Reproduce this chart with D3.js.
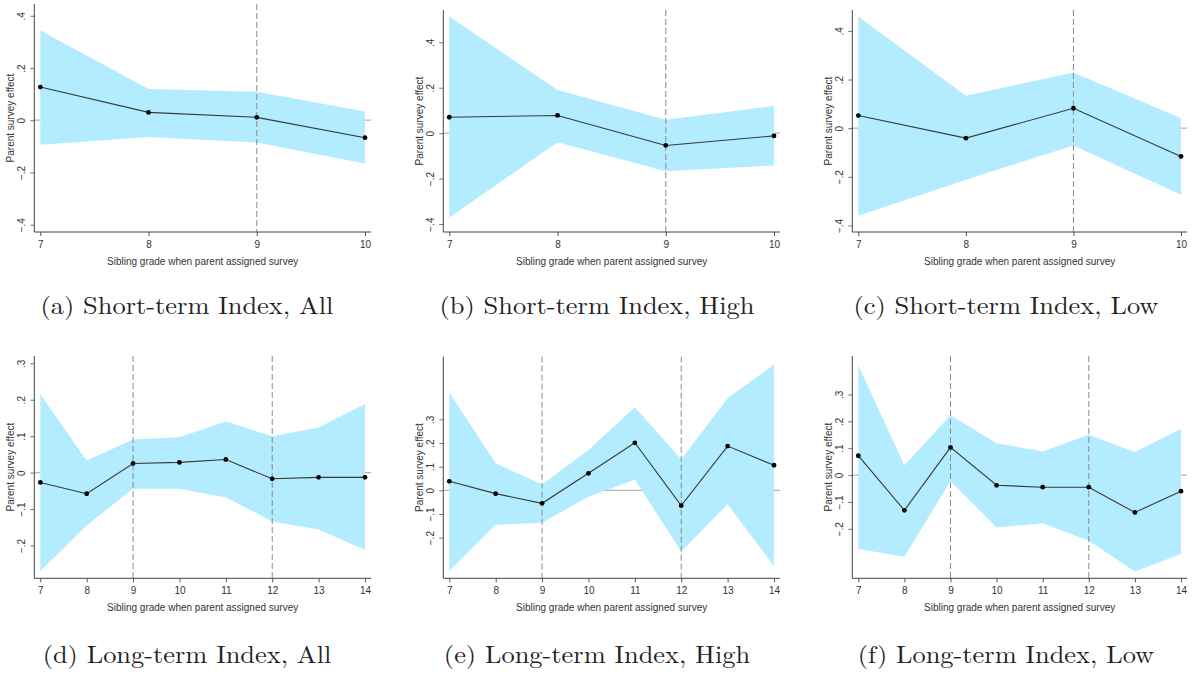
<!DOCTYPE html>
<html>
<head>
<meta charset="utf-8">
<script src="https://cdn.jsdelivr.net/npm/d3@7"></script>
<style>
  body { margin: 0; background: #fff; }
  .tick text { font-family: "Liberation Sans", Arial, sans-serif; font-size: 10px; fill: #333; }
  .axisTitle { font-family: "Liberation Sans", Arial, sans-serif; font-size: 10px; fill: #333; }
  .caption { font-family: "Latin Modern Roman", "Liberation Serif", serif; font-size: 24px; fill: #222; }
</style>
</head>
<body>
<div class="chart"></div>
<script>
// Grades on the x axis
var shortGrades = [7, 8, 9, 10];
var longGrades = [7, 8, 9, 10, 11, 12, 13, 14];

// Y tick values
var shortTicks = [-0.4, -0.2, 0, 0.2, 0.4];
var longTicks = [-0.2, -0.1, 0, 0.1, 0.2, 0.3];

// Dashed cutoff grades
var shortCutoffs = [9];
var longCutoffs = [9, 12];

// (a) Short-term Index, All
var estA = [0.127, 0.030, 0.011, -0.067];
var hiA = [0.344, 0.120, 0.109, 0.033];
var loA = [-0.094, -0.064, -0.085, -0.166];
// (b) Short-term Index, High
var estB = [0.070, 0.078, -0.054, -0.012];
var hiB = [0.513, 0.190, 0.059, 0.120];
var loB = [-0.371, -0.040, -0.168, -0.142];
// (c) Short-term Index, Low
var estC = [0.052, -0.041, 0.082, -0.116];
var hiC = [0.459, 0.133, 0.229, 0.041];
var loC = [-0.360, -0.212, -0.071, -0.274];
// (d) Long-term Index, All
var estD = [-0.027, -0.058, 0.025, 0.028, 0.036, -0.017, -0.013, -0.013];
var hiD = [0.215, 0.033, 0.091, 0.097, 0.140, 0.100, 0.124, 0.188];
var loD = [-0.270, -0.145, -0.044, -0.044, -0.068, -0.134, -0.156, -0.212];
// (e) Long-term Index, High
var estE = [0.038, -0.014, -0.055, 0.072, 0.201, -0.065, 0.187, 0.106];
var hiE = [0.414, 0.114, 0.025, 0.170, 0.351, 0.131, 0.389, 0.532];
var loE = [-0.341, -0.146, -0.137, -0.027, 0.046, -0.259, -0.059, -0.320];
// (f) Long-term Index, Low
var estF = [0.072, -0.131, 0.103, -0.038, -0.045, -0.045, -0.139, -0.060];
var hiF = [0.409, 0.037, 0.223, 0.118, 0.088, 0.150, 0.086, 0.172];
var loF = [-0.275, -0.304, -0.022, -0.195, -0.179, -0.244, -0.359, -0.294];

var captions = [
  "(a) Short-term Index, All", "(b) Short-term Index, High", "(c) Short-term Index, Low",
  "(d) Long-term Index, All", "(e) Long-term Index, High", "(f) Long-term Index, Low"
];

var xTitle = "Sibling grade when parent assigned survey";
var yTitle = "Parent survey effect";

// SVG area
var svgWidth = 1194;
var svgHeight = 673;

var svg = d3.select(".chart")
  .append("svg")
  .attr("width", svgWidth)
  .attr("height", svgHeight);

svg.append("rect").attr("width", svgWidth).attr("height", svgHeight).attr("fill", "#fff");

// Panel frames (axis lines) and the value range the y axis covers
var colLeft = [34.3, 443.3, 852.3];
var colRight = [371, 780, 1187];
var colCaptionX = [187, 597, 1006];
var rowBottom = [232, 578.3];
var rowCaptionY = [314, 663];

var panels = [
  { grades: shortGrades, est: estA, hi: hiA, lo: loA, ticks: shortTicks, cuts: shortCutoffs, top: 4, yExt: [-0.428, 0.445] },
  { grades: shortGrades, est: estB, hi: hiB, lo: loB, ticks: shortTicks, cuts: shortCutoffs, top: 10, yExt: [-0.435, 0.542] },
  { grades: shortGrades, est: estC, hi: hiC, lo: loC, ticks: shortTicks, cuts: shortCutoffs, top: 10, yExt: [-0.427, 0.486] },
  { grades: longGrades, est: estD, hi: hiD, lo: loD, ticks: longTicks, cuts: longCutoffs, top: 356, yExt: [-0.290, 0.320] },
  { grades: longGrades, est: estE, hi: hiE, lo: loE, ticks: longTicks, cuts: longCutoffs, top: 356.7, yExt: [-0.372, 0.565] },
  { grades: longGrades, est: estF, hi: hiF, lo: loF, ticks: longTicks, cuts: longCutoffs, top: 356, yExt: [-0.384, 0.443] }
];

// Stata style tick labels: .2, -.4, 0
var fmt = function(d) {
  if (Math.abs(d) < 1e-9) return "0";
  return d3.format(".1f")(d).replace("0.", ".");
};

panels.forEach(function(p, i) {
  var col = i % 3;
  var row = Math.floor(i / 3);
  var left = colLeft[col], right = colRight[col];
  var top = p.top, bottom = rowBottom[row];

  var g = svg.append("g");

  var xScale = d3.scaleLinear()
    .domain(d3.extent(p.grades))
    .range([left + 6, right - 6]);

  var yScale = d3.scaleLinear()
    .domain(p.yExt)
    .range([bottom, top]);

  var rows = p.grades.map(function(gr, k) {
    return { grade: gr, est: p.est[k], hi: p.hi[k], lo: p.lo[k] };
  });

  // zero reference line (behind band)
  g.append("line")
    .attr("x1", left).attr("x2", right)
    .attr("y1", yScale(0)).attr("y2", yScale(0))
    .attr("stroke", "#b4b4b4")
    .attr("stroke-width", 1.3);

  // confidence band
  var area = d3.area()
    .x(d => xScale(d.grade))
    .y0(d => yScale(d.lo))
    .y1(d => yScale(d.hi));

  g.append("path")
    .datum(rows)
    .attr("d", area)
    .attr("fill", "#b3ebff");

  // dashed cutoff lines
  g.selectAll(".cut")
    .data(p.cuts)
    .enter()
    .append("line")
    .attr("class", "cut")
    .attr("x1", d => xScale(d)).attr("x2", d => xScale(d))
    .attr("y1", top).attr("y2", bottom)
    .attr("stroke", "#8a8a8a")
    .attr("stroke-width", 1)
    .attr("stroke-dasharray", "6,3");

  // point estimates
  var line = d3.line()
    .x(d => xScale(d.grade))
    .y(d => yScale(d.est));

  g.append("path")
    .datum(rows)
    .attr("d", line)
    .attr("fill", "none")
    .attr("stroke", "#383838")
    .attr("stroke-width", 1.1);

  g.selectAll(".pt")
    .data(rows)
    .enter()
    .append("circle")
    .attr("class", "pt")
    .attr("cx", d => xScale(d.grade))
    .attr("cy", d => yScale(d.est))
    .attr("r", 2.4)
    .attr("fill", "#000");

  // axes
  var bottomAxis = d3.axisBottom(xScale)
    .tickValues(p.grades)
    .tickFormat(d3.format("d"))
    .tickSize(4)
    .tickSizeOuter(0)
    .tickPadding(5);

  var leftAxis = d3.axisLeft(yScale)
    .tickValues(p.ticks)
    .tickFormat(fmt)
    .tickSize(4)
    .tickSizeOuter(0);

  var xg = g.append("g")
    .attr("transform", `translate(0, ${bottom})`)
    .call(bottomAxis);
  xg.select(".domain").remove();
  xg.selectAll(".tick line").attr("stroke", "#555");

  var yg = g.append("g")
    .attr("transform", `translate(${left}, 0)`)
    .call(leftAxis);
  yg.select(".domain").remove();
  yg.selectAll(".tick line").attr("stroke", "#777");
  yg.selectAll(".tick text")
    .attr("transform", "rotate(-90)")
    .attr("x", 0)
    .attr("y", -9.5)
    .attr("dy", "0")
    .attr("text-anchor", "middle");

  g.append("line")
    .attr("x1", left).attr("x2", right)
    .attr("y1", bottom).attr("y2", bottom)
    .attr("stroke", "#444");
  g.append("line")
    .attr("x1", left).attr("x2", left)
    .attr("y1", top).attr("y2", bottom)
    .attr("stroke", "#444");

  // axis titles
  g.append("text")
    .attr("class", "axisTitle")
    .attr("x", (left + right) / 2)
    .attr("y", bottom + 32.5)
    .attr("text-anchor", "middle")
    .text(xTitle);

  g.append("text")
    .attr("class", "axisTitle")
    .attr("transform", `translate(${left - 20}, ${(top + bottom) / 2}) rotate(-90)`)
    .attr("text-anchor", "middle")
    .text(yTitle);

  // caption
  var cap = svg.append("text")
    .attr("class", "caption")
    .attr("x", colCaptionX[col])
    .attr("y", rowCaptionY[row])
    .attr("text-anchor", "middle")
    .text(captions[i]);
  var natural = cap.node().getComputedTextLength();
  cap.attr("textLength", natural * 1.1).attr("lengthAdjust", "spacingAndGlyphs");
});
</script>
</body>
</html>
